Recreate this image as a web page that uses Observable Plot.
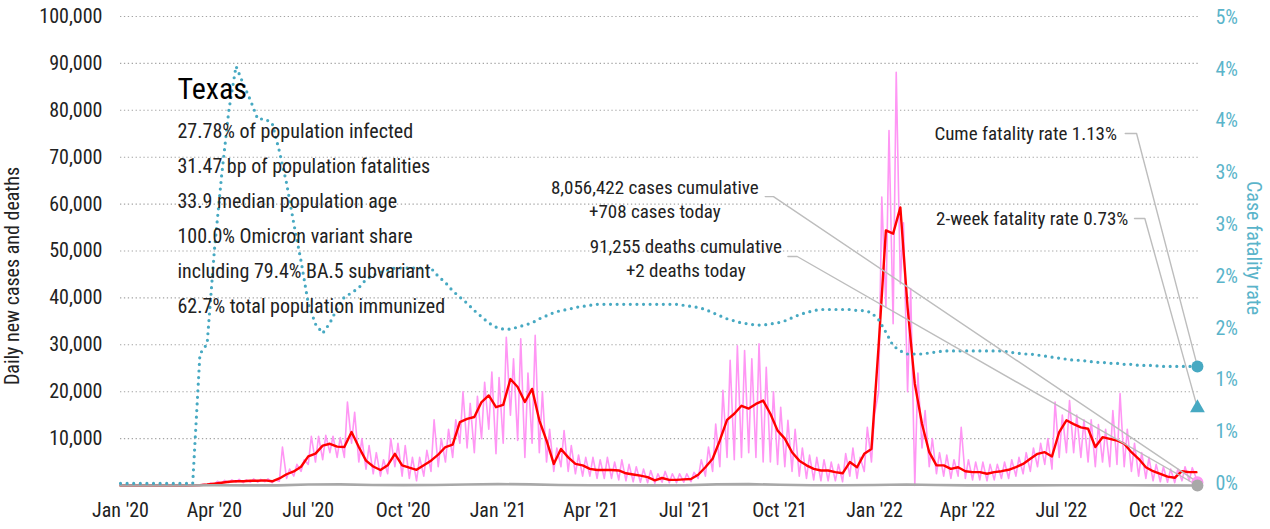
<!DOCTYPE html>
<html><head><meta charset="utf-8">
<script src="https://cdn.jsdelivr.net/npm/d3@7"></script>
<script src="https://cdn.jsdelivr.net/npm/@observablehq/plot@0.6"></script>
<style>
body{margin:0;background:#fff;}
#chart svg{display:block;}
</style></head><body><div id="chart"></div>
<script>
// ---------- data ----------
const startDate = "2020-01-01";   // first weekly sample
const lastDate = "2022-11-10";    // latest reported day
const stateName = "Texas";
const statLines = [
  "27.78% of population infected",
  "31.47 bp of population fatalities",
  "33.9 median population age",
  "100.0% Omicron variant share",
  "including 79.4% BA.5 subvariant",
  "62.7% total population immunized"
];
const casesCumulative = 8056422;
const casesToday = 708;
const deathsCumulative = 91255;
const deathsToday = 2;
const cumeFatalityPct = 1.13;
const twoWeekFatalityPct = 0.73;

// 7-day average of daily new cases, one value per week from startDate
const avgCases = [
  0,0,0,0,0,0,0,0,0,0,
  20,80,200,400,600,800,900,900,1000,1000,
  1100,900,1500,2400,3000,4000,6200,6800,8500,8900,
  8300,8200,11400,8200,5300,4050,3300,4300,6750,4300,
  3800,3350,4300,5300,6600,8200,8700,13500,14200,14600,
  17800,19200,16700,17200,22700,21000,17800,20600,13900,9600,
  4600,7800,6000,4600,4300,3550,3300,3300,3300,3200,
  2600,2350,2100,1800,1100,1600,1200,1200,1300,1400,
  2300,3900,5700,9600,14000,15300,17000,16400,17400,18100,
  15300,11700,10000,7100,5300,4300,3550,3200,3200,2850,
  2600,5000,3900,6750,7800,30000,54400,53700,59300,38000,
  21700,13100,7100,4300,4300,3550,3900,3050,2850,2850,
  2500,2850,3050,3350,3900,4600,5700,6750,7100,6200,
  11400,13900,13100,12400,12100,8200,10300,9950,9600,8900,
  7100,5700,3900,3050,2500,1900,1650,3050,2850,2850
];
// raw daily new cases: weekly high and weekly low
const dailyHigh = [
  0,0,0,0,0,0,0,0,0,0,
  0,250,500,900,1100,1200,1300,1200,1400,1300,
  1400,1200,8200,3500,4500,5500,10500,10500,10700,10500,
  10200,17800,15600,10000,8500,7000,5500,10000,9000,8500,
  6000,6000,7500,14000,10000,12000,14000,20000,17500,19000,
  22000,24200,23000,31600,27000,31300,24000,32000,20000,12000,
  8000,11700,8500,6500,6000,6000,5500,6000,5000,5500,
  4500,4000,3500,3200,2500,3000,2500,2500,2500,2800,
  5500,8200,13100,20300,26700,29800,28800,27000,30200,25200,
  20000,16700,13900,12000,8000,6500,6000,5500,5000,4500,
  6800,8000,6000,12400,15300,61500,75700,88100,56000,42000,
  24000,16000,10000,7000,6500,5500,12400,5500,5000,5000,
  4500,4500,5000,5500,6000,7000,8000,9000,10000,17800,
  15000,18100,15000,14000,14000,13000,12000,16000,19600,12000,
  9000,7000,6000,4500,4000,3500,3500,4000,3800,3500
];
const dailyLow = [
  0,0,0,0,0,0,0,0,0,0,
  0,0,100,300,500,600,700,600,700,700,
  800,600,900,1500,2000,3000,4500,5000,5500,7000,
  6000,6000,9000,5000,3500,2500,2000,2500,4000,2000,
  1500,1000,2000,3000,4000,5000,6000,9000,8000,7000,
  10000,12000,6800,9000,15000,9600,6000,9000,7000,5000,
  3000,4000,3000,2500,2000,2000,1500,1500,1500,1200,
  1000,800,700,600,500,700,600,600,700,800,
  1500,2000,3000,4000,6000,5500,6000,7000,6000,5000,
  5000,4500,4000,3000,2000,1500,1200,1000,1000,1000,
  800,2000,1500,3000,5000,20000,38000,34500,43000,20000,
  0,8000,4000,2500,2000,1500,2000,1500,1200,1200,
  1000,1200,1500,1500,2000,2500,3000,4000,4500,3500,
  6000,7000,7000,6000,5000,4000,5000,4000,4500,4000,
  3000,2000,1500,1000,800,700,600,1000,1000,1500
];
// cumulative case fatality rate, %, one value per week
const cfrPct = [
  0,0,0,0,0,0,0,0,0,0,
  0,1.25,1.35,2.25,2.97,3.60,4.03,3.86,3.70,3.52,
  3.52,3.48,3.21,2.90,2.51,2.15,1.74,1.54,1.45,1.55,
  1.69,1.80,1.84,1.89,1.97,2.01,2.04,2.06,2.08,2.08,
  2.08,2.08,2.08,2.08,2.00,1.94,1.86,1.80,1.74,1.67,
  1.61,1.55,1.51,1.49,1.49,1.51,1.53,1.55,1.59,1.62,
  1.65,1.67,1.68,1.70,1.71,1.72,1.73,1.73,1.73,1.73,
  1.73,1.73,1.73,1.73,1.73,1.73,1.73,1.73,1.72,1.71,
  1.70,1.68,1.65,1.62,1.59,1.57,1.55,1.54,1.53,1.53,
  1.54,1.55,1.57,1.60,1.63,1.65,1.67,1.68,1.68,1.68,
  1.68,1.68,1.67,1.67,1.65,1.58,1.46,1.33,1.28,1.25,
  1.25,1.25,1.26,1.27,1.28,1.28,1.28,1.28,1.28,1.28,
  1.28,1.28,1.28,1.27,1.26,1.25,1.25,1.24,1.23,1.22,
  1.21,1.20,1.19,1.19,1.18,1.17,1.17,1.16,1.16,1.15,
  1.15,1.14,1.14,1.14,1.13,1.13,1.13,1.13,1.13,1.13
];
// daily deaths, monthly level, Jan 2020 .. Oct 2022
const deathsMonthly = [
  0,0,5,40,30,30,200,250,110,80,120,200,
  300,250,120,50,40,30,40,250,300,150,60,50,
  120,200,100,30,20,20,40,50,40,30
];
const leftTicks = [10000,20000,30000,40000,50000,60000,70000,80000,90000,100000];
const rightTicks = [0,0.005,0.01,0.015,0.02,0.025,0.03,0.035,0.04,0.045];
const rightTickLabels = ["0%","1%","1%","2%","2%","3%","3%","4%","4%","5%"];
const xTickDates = ["2020-01-01","2020-04-01","2020-07-01","2020-10-01","2021-01-01","2021-04-01",
  "2021-07-01","2021-10-01","2022-01-01","2022-04-01","2022-07-01","2022-10-01"];

// ---------- build ----------
const FONT = '"Liberation Sans Narrow","Roboto Condensed","DejaVu Sans Condensed","Arial Narrow",sans-serif';
const teal = "#47a9c2", tealText = "#5ab4ca", red = "#ff0000", pink = "#ff96f4", gray = "#a8a8a8", lead = "#bdbdbd";
const DAY = 864e5;
const t0 = Date.parse(startDate);
const wk = i => new Date(t0 + i * 7 * DAY);
const tEnd = new Date(lastDate);
// right axis (case fatality rate) shares the frame with the left axis
const cfrLo = -0.0002, cfrHi = 0.0451;
const toLeft = r => (r - cfrLo) / (cfrHi - cfrLo) * 100000;

const avgData = avgCases.map((v, i) => ({date: wk(i), v}));
const dailyData = dailyLow.flatMap((lo, i) => [
  {date: new Date(t0 + 7 * i * DAY), v: lo},
  {date: new Date(t0 + (7 * i + 3) * DAY), v: dailyHigh[i]}
]).filter(d => d.date <= tEnd).concat([{date: tEnd, v: casesToday}]);
const cfrData = cfrPct.map((p, i) => ({date: wk(i), v: toLeft(p / 100)}))
  .concat([{date: tEnd, v: toLeft(cumeFatalityPct / 100)}]);
const deathData = deathsMonthly.map((v, i) => ({date: new Date(Date.UTC(2020, i, 1)), v}))
  .concat([{date: tEnd, v: deathsToday}]);

const fmt = d3.format(",");
const rightMap = new Map(rightTicks.map((r, i) => [toLeft(r), rightTickLabels[i]]));

const endCases = {date: tEnd, v: casesToday};
const endDeaths = {date: tEnd, v: deathsToday};
const endCume = {date: tEnd, v: toLeft(cumeFatalityPct / 100)};
const endTwo = {date: tEnd, v: toLeft(twoWeekFatalityPct / 100)};

// annotation layout (label anchor, leader elbow) in chart units
const notes = [
  {text: `${fmt(casesCumulative)} cases cumulative\n+${fmt(casesToday)} cases today`,
   x: "2021-06-02", y: 61200, anchor: "middle", l1: "2021-09-17", l2: "2021-09-25", ly: 61600, end: endCases},
  {text: `${fmt(deathsCumulative)} deaths cumulative\n+${fmt(deathsToday)} deaths today`,
   x: "2021-07-02", y: 48700, anchor: "middle", l1: "2021-10-09", l2: "2021-10-18", ly: 48830, end: endDeaths},
  {text: `Cume fatality rate ${cumeFatalityPct.toFixed(2)}%`,
   x: "2022-08-24", y: 75050, anchor: "end", l1: "2022-09-01", l2: "2022-09-12", ly: 75050, end: endCume},
  {text: `2-week fatality rate ${twoWeekFatalityPct.toFixed(2)}%`,
   x: "2022-09-04", y: 56930, anchor: "end", l1: "2022-09-10", l2: "2022-09-20", ly: 56930, end: endTwo}
];
const leaders = notes.flatMap((n, k) => [
  {k, date: new Date(n.l1), v: n.ly},
  {k, date: new Date(n.l2), v: n.ly},
  {k, date: n.end.date, v: n.end.v}
]);

const chart = Plot.plot({
  width: 1270, height: 529,
  marginTop: 16, marginBottom: 44, marginLeft: 120, marginRight: 71,
  style: {fontFamily: FONT, fontSize: "20px", color: "#222", background: "#fff", overflow: "visible"},
  x: {type: "utc", domain: [new Date(startDate), new Date("2022-11-12")]},
  y: {domain: [0, 100000]},
  marks: [
    Plot.gridY(leftTicks, {stroke: "#9a9a9a", strokeOpacity: 0.9, strokeDasharray: "1.3,2.6", strokeWidth: 1.1}),
    Plot.axisY(leftTicks, {anchor: "left", tickSize: 0, tickPadding: 18, tickFormat: fmt, label: null, fontSize: 20}),
    Plot.axisY(rightTicks.map(toLeft), {anchor: "right", tickSize: 0, tickPadding: 16,
      tickFormat: d => rightMap.get(d), label: null, color: tealText, fontSize: 20}),
    Plot.axisX(xTickDates.map(d => new Date(d)), {tickSize: 0, tickPadding: 17,
      tickFormat: d3.utcFormat("%b '%y"), label: null, fontSize: 20}),
    Plot.text(["Daily new cases and deaths"], {frameAnchor: "left", dx: -108, dy: 25, rotate: -90,
      textAnchor: "middle", fontSize: 20, fill: "#222"}),
    Plot.text(["Case fatality rate"], {frameAnchor: "right", dx: 54, dy: -3, rotate: 90,
      textAnchor: "middle", fontSize: 20, fill: tealText}),
    Plot.line(dailyData, {x: "date", y: "v", stroke: pink, strokeWidth: 1.6}),
    Plot.line(avgData, {x: "date", y: "v", stroke: red, strokeWidth: 2.4}),
    Plot.line(deathData, {x: "date", y: "v", stroke: gray, strokeWidth: 2.6}),
    Plot.line(cfrData, {x: "date", y: "v", stroke: teal, strokeWidth: 3.2,
      strokeDasharray: "0,6.6", strokeLinecap: "round"}),
    Plot.line(leaders, {x: "date", y: "v", z: "k", stroke: lead, strokeWidth: 1.4}),
    Plot.dot([endCases], {x: "date", y: "v", r: 6, fill: pink}),
    Plot.dot([endDeaths], {x: "date", y: "v", r: 6, fill: gray}),
    Plot.dot([endCume], {x: "date", y: "v", r: 6, fill: teal}),
    Plot.dot([endTwo], {x: "date", y: "v", r: 5.5, symbol: "triangle", fill: teal}),
    Plot.text(notes.filter(n => n.anchor === "middle"), {x: d => new Date(d.x), y: "y", text: "text",
      textAnchor: "middle", lineAnchor: "middle", lineHeight: 1.28, fontSize: 19, fill: "#222"}),
    Plot.text(notes.filter(n => n.anchor === "end"), {x: d => new Date(d.x), y: "y", text: "text",
      textAnchor: "end", lineAnchor: "middle", fontSize: 19, fill: "#222"}),
    Plot.text([stateName], {frameAnchor: "top-left", dx: 57, dy: 73, textAnchor: "start",
      lineAnchor: "middle", fontSize: 30, fill: "#000"}),
    Plot.text([statLines.join("\n")], {frameAnchor: "top-left", dx: 57, dy: 198, textAnchor: "start",
      lineAnchor: "middle", lineHeight: 1.75, fontSize: 20, fill: "#222"})
  ]
});
document.getElementById("chart").appendChild(chart);
</script>
</body></html>
